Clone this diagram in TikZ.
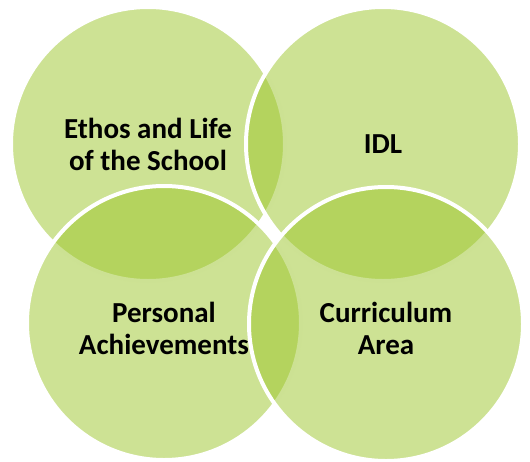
\documentclass[tikz,border=0pt]{standalone}
\usepackage{fontspec}
\setmainfont{Carlito}
\definecolor{leaf}{RGB}{155,197,41}
\begin{document}
\begin{tikzpicture}[x=1pt,y=-1pt,
  venn/.style={circle, minimum size=274pt, inner sep=0pt, fill=leaf, fill opacity=0.5, draw=white, draw opacity=1, line width=4pt},
  lbl/.style={align=center, font=\bfseries\fontsize{29}{32}\selectfont, text=black, inner sep=0pt}]
\useasboundingbox (0,0) rectangle (530,461);
\node[venn] (tl) at (148,144) {};
\node[venn] (tr) at (383,144) {};
\node[venn] (bl) at (164,323) {};
\node[venn] (br) at (386,324) {};
\node[lbl] (tlt) at (148,144) {Ethos and Life\\of the School};
\node[lbl] (trt) at (383,144) {IDL};
\node[lbl] (blt) at (164,328) {Personal\\Achievements};
\node[lbl] (brt) at (386,328) {Curriculum\\Area};
\end{tikzpicture}
\end{document}
